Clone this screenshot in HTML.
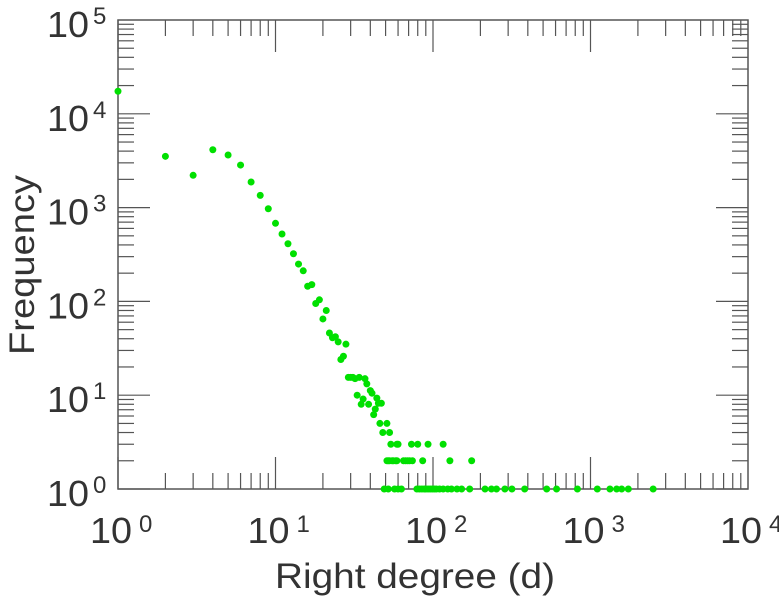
<!DOCTYPE html>
<html><head><meta charset="utf-8"><style>
html,body{margin:0;padding:0;background:#fff;}
svg{display:block;font-family:"Liberation Sans",sans-serif;}
</style></head><body>
<svg id="chart" width="779" height="600" viewBox="0 0 779 600"></svg>
<script>
const degrees = [1,2,3,4,5,6,7,8,9,10,11,12,13,14,15,16,17,18,19,20,21,22,23,24,25,26,27,28,
29,30,31,32,33,34,35,36,37,38,39,40,41,42,43,44,45,46,47,48,51,53,54,59,60,73,80,93,116,
51,52,53,55,56,58,59,65,67,69,71,74,86,128,176,
49,52,57,60,63,79,82,85,88,90,93,96,99,102,105,110,116,124,131,142,152,171,214,235,253,286,317,382,527,609,826,1105,1329,1466,1577,1738,2499];
const freqs = [17400,3520,2210,4140,3640,2840,1875,1350,973,680,523,412,322,250,212,145,151,95,104,65,80,46,41,42,37,24,26,35,
15.5,15.5,15.5,15,10,15.5,8,9.1,15,13.2,8,11.2,10.5,6.2,7.1,9.3,8.2,5,8.2,4,5,4,3,3,3,3,3,3,3,
2,2,2,2,2,2,2,2,2,2,2,2,2,2,2,
1,1,1,1,1,1,1,1,1,1,1,1,1,1,1,1,1,1,1,1,1,1,1,1,1,1,1,1,1,1,1,1,1,1,1,1,1];
const xTickLabels = ["0","1","2","3","4"];
const yTickLabels = ["0","1","2","3","4","5"];

const NS="http://www.w3.org/2000/svg";
const svg=document.getElementById('chart');
const X0=118,X1=748,Y0=489,Y1=20;
const xs=d=>X0+(X1-X0)*Math.log10(d)/4;
const ys=f=>Y0-(Y0-Y1)*Math.log10(f)/5;
function mk(tag,attrs,parent){const e=document.createElementNS(NS,tag);for(const k in attrs)e.setAttribute(k,attrs[k]);(parent||svg).appendChild(e);return e;}

const axes=mk('g',{});


const frame=mk('rect',{x:X0,y:Y1,width:X1-X0,height:Y0-Y1,fill:'none',stroke:'#555','stroke-width':1.5},axes);



for(let k=0;k<4;k++){for(let m=1;m<10;m++){const x=xs(m*Math.pow(10,k));const L=m===1?32:16;
 const t1=mk('line',{x1:x,x2:x,y1:Y0,y2:Y0-L,stroke:'#555','stroke-width':1.2},axes);
 
 
 const t2=mk('line',{x1:x,x2:x,y1:Y1,y2:Y1+L,stroke:'#555','stroke-width':1.2},axes);
 
 }}
for(let k=0;k<5;k++){for(let m=1;m<10;m++){const y=ys(m*Math.pow(10,k));const L=m===1?32:16;
 const t1=mk('line',{x1:X0,x2:X0+L,y1:y,y2:y,stroke:'#555','stroke-width':1.2},axes);
 
 
 const t2=mk('line',{x1:X1,x2:X1-L,y1:y,y2:y,stroke:'#555','stroke-width':1.2},axes);
 
 }}

xTickLabels.forEach((s,i)=>{const cx=xs(Math.pow(10,i));
 const g=mk('text',{x:cx-28,y:543,'font-size':36,fill:'#333'});
 
 
 const a=mk('tspan',{textLength:42,lengthAdjust:'spacingAndGlyphs'},g);a.textContent='10';
 const b=mk('tspan',{x:cx+21,y:532,'font-size':24},g);b.textContent=s;});
yTickLabels.forEach((s,i)=>{const cy=ys(Math.pow(10,i));
 const g=mk('text',{x:47,y:cy+17,'font-size':36,fill:'#333'});
 
 
 const a=mk('tspan',{textLength:42,lengthAdjust:'spacingAndGlyphs'},g);a.textContent='10';
 const b=mk('tspan',{x:93,y:cy+4,'font-size':24},g);b.textContent=s;});

const xt=mk('text',{x:415,y:588,'font-size':35,fill:'#333','text-anchor':'middle',textLength:280,lengthAdjust:'spacingAndGlyphs'});
xt.textContent='Right degree (d)';


const yt=mk('text',{x:0,y:0,'font-size':35,fill:'#333','text-anchor':'middle',transform:'translate(34,265) rotate(-90)',textLength:180,lengthAdjust:'spacingAndGlyphs'});
yt.textContent='Frequency';



const pts=mk('g',{fill:'#00e000'});


degrees.forEach((d,i)=>{const c=mk('circle',{cx:xs(d),cy:ys(freqs[i]),r:3.5},pts);
 
 });
</script>
</body></html>
